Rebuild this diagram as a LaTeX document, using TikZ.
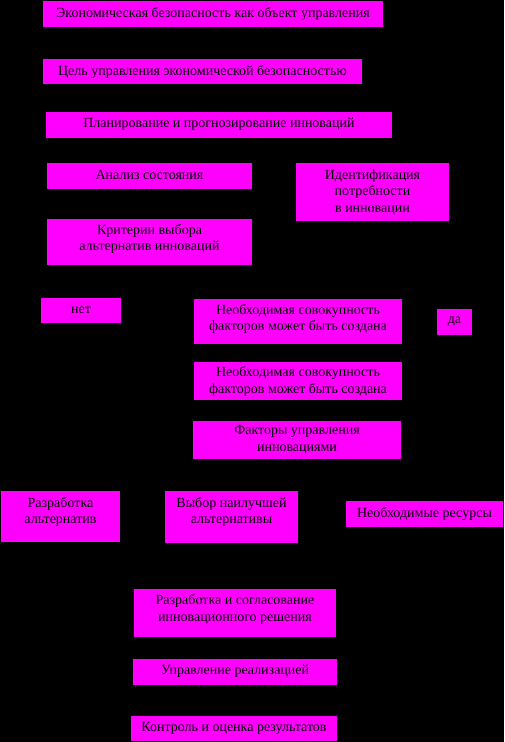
\documentclass[tikz,border=0pt]{standalone}
\usepackage{fontspec}
\setmainfont{Liberation Serif}
\definecolor{boxpink}{RGB}{255,0,255}
\begin{document}
\begin{tikzpicture}[x=1pt,y=-1pt,
  box/.style={fill=boxpink, draw=none},
  txt/.style={text=black, align=center, inner sep=0pt, font=\fontsize{14}{16.5}\selectfont}]
\useasboundingbox (0,0) rectangle (504,742);
\fill[black] (0,0) rectangle (504,742);
\path[box] (43,1) rectangle (383,27);
\node[txt] (b1) at (213,14) {Экономическая безопасность как объект управления};
\path[box] (43,59) rectangle (362,84);
\node[txt] (b2) at (202.5,71.5) {Цель управления экономической безопасностью};
\path[box] (46,112) rectangle (392,138);
\node[txt] (b3) at (219,124) {Планирование и прогнозирование инноваций};
\path[box] (47,163) rectangle (252,189);
\node[txt] (b4) at (149.5,175) {Анализ состояния};
\path[box] (296,163) rectangle (449,221);
\node[txt] (b5) at (372.5,192) {Идентификация\\потребности\\в инновации};
\path[box] (47,219) rectangle (252,265);
\node[txt] (b6) at (149.5,239) {Критерии выбора\\альтернатив инноваций};
\path[box] (41,298) rectangle (121,323);
\node[txt] (b7) at (81,310.5) {нет};
\path[box] (194,299) rectangle (402,344);
\node[txt] (b8) at (298,319) {Необходимая совокупность\\факторов может быть создана};
\path[box] (437,309) rectangle (472,335);
\node[txt] (b9) at (454.5,322) {да};
\path[box] (194,362) rectangle (402,400);
\node[txt] (b10) at (298,381.5) {Необходимая совокупность\\факторов может быть создана};
\path[box] (193,421) rectangle (401,459);
\node[txt] (b11) at (297,440) {Факторы управления\\инновациями};
\path[box] (1,491) rectangle (120,542);
\node[txt] (b12) at (60.5,512) {Разработка\\альтернатив};
\path[box] (165,491) rectangle (298,543);
\node[txt] (b13) at (231.5,512) {Выбор наилучшей\\альтернативы};
\path[box] (346,501) rectangle (503,527);
\node[txt] (b14) at (424.5,513.5) {Необходимые ресурсы};
\path[box] (134,589) rectangle (336,637);
\node[txt] (b15) at (235,609.5) {Разработка и согласование\\инновационного решения};
\path[box] (133,659) rectangle (337,685);
\node[txt] (b16) at (235,671.5) {Управление реализацией};
\path[box] (131,716) rectangle (337,741);
\node[txt] (b17) at (234,728.5) {Контроль и оценка результатов};
\end{tikzpicture}
\end{document}
